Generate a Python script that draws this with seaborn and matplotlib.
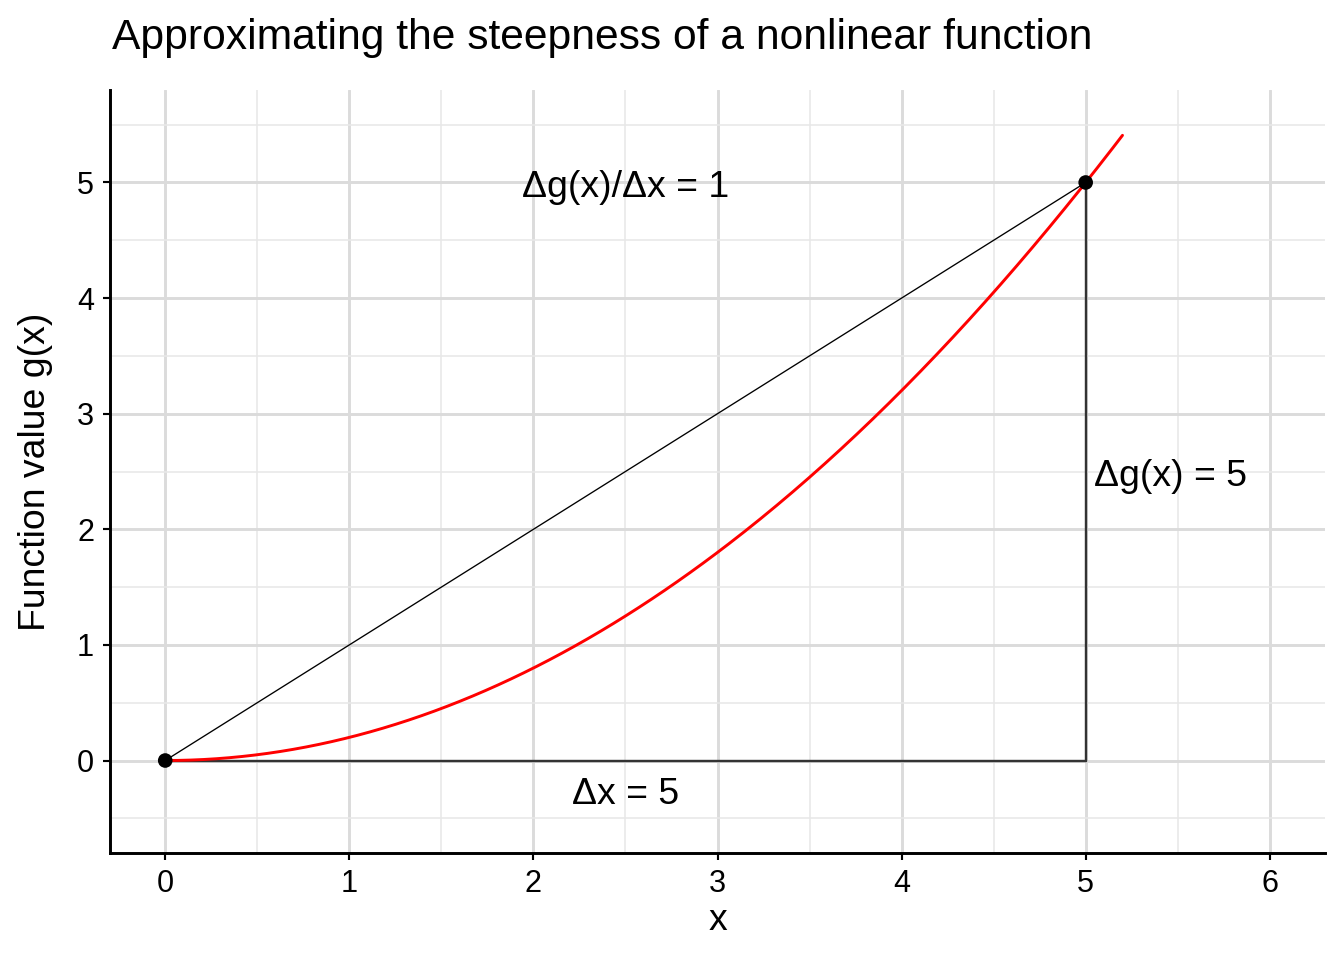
import numpy as np
import pandas as pd
import matplotlib.pyplot as plt
import seaborn as sns

# nonlinear function g(x) = coef * x^2  (g(5) = 5 on the chart)
coef = 0.2
curve_start = 0.0
curve_end = 5.2

# the two points the secant runs through
point_x = [0, 5]
point_y = [0, 5]

# annotations: text, x, y
label_text = ["\u0394g(x)/\u0394x = 1", "\u0394x = 5", "\u0394g(x) = 5"]
label_x = [2.5, 2.5, 5.46]
label_y = [4.96, -0.29, 2.46]

x_ticks = [0, 1, 2, 3, 4, 5, 6]
y_ticks = [0, 1, 2, 3, 4, 5]

sns.set_theme(style="white")
plt.rcParams["font.family"] = ["Liberation Sans", "DejaVu Sans"]

curve_x = np.linspace(curve_start, curve_end, 300)
curve = pd.DataFrame({"x": curve_x, "g": coef * curve_x ** 2})
points = pd.DataFrame({"x": point_x, "g": point_y})

fig = plt.figure(figsize=(7, 5), dpi=192)
ax = fig.add_axes([110 / 1344, 107 / 960, 1215 / 1344, 763 / 960])

# grid
for v in np.arange(-0.5, 6.51, 0.5):
    major = float(v).is_integer()
    ax.axvline(v, color="#DBDBDB" if major else "#E8E8E8",
               lw=1.1 if major else 0.6, zorder=0)
for v in np.arange(-0.5, 5.51, 0.5):
    major = float(v).is_integer()
    ax.axhline(v, color="#DBDBDB" if major else "#E8E8E8",
               lw=1.1 if major else 0.6, zorder=0)

# secant and the two legs
sns.lineplot(data=points, x="x", y="g", color="black", lw=0.5, ax=ax,
             estimator=None, zorder=2)
sns.lineplot(x=[point_x[0], point_x[1]], y=[point_y[0], point_y[0]],
             color="#333333", lw=0.9, ax=ax, estimator=None, zorder=2)
sns.lineplot(x=[point_x[1], point_x[1]], y=[point_y[0], point_y[1]],
             color="#333333", lw=0.9, ax=ax, estimator=None, sort=False,
             zorder=2)

# the function
sns.lineplot(data=curve, x="x", y="g", color="red", lw=1.1, ax=ax,
             estimator=None, sort=False, zorder=3)

sns.scatterplot(data=points, x="x", y="g", color="black", s=30,
                edgecolor="none", ax=ax, zorder=4)

for t, lx, ly in zip(label_text, label_x, label_y):
    ax.text(lx, ly, t, ha="center", va="center", fontsize=14, color="black",
            zorder=5)

ax.set_xlim(-0.3, 6.3)
ax.set_ylim(-0.8, 5.8)
ax.set_xticks(x_ticks)
ax.set_yticks(y_ticks)
ax.tick_params(axis="both", which="major", length=2.75, width=0.8,
               color="black", labelsize=11.5, labelcolor="black",
               pad=3.2, bottom=True, left=True)
for side in ["top", "right"]:
    ax.spines[side].set_visible(False)
for side in ["left", "bottom"]:
    ax.spines[side].set_visible(True)
    ax.spines[side].set_color("black")
    ax.spines[side].set_linewidth(1.1)
ax.grid(False)

ax.set_xlabel("x", fontsize=14, color="black", labelpad=1.5)
ax.set_ylabel("Function value g(x)", fontsize=14, color="black", labelpad=9)

fig.text(112 / 1344, 1 - 49 / 960,
         "Approximating the steepness of a nonlinear function",
         fontsize=16.0, ha="left", va="baseline", color="black")

fig.savefig("out.png", dpi=192)
